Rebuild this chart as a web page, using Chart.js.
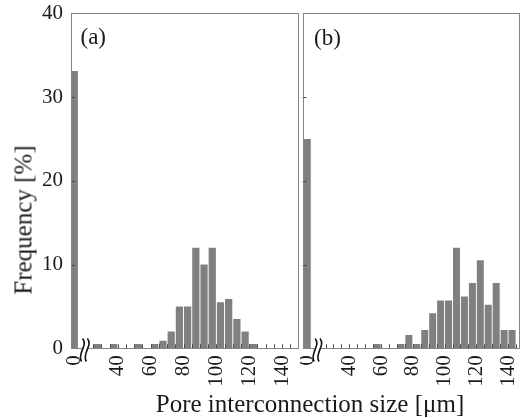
<!DOCTYPE html>
<html><head><meta charset="utf-8">
<script src="https://cdn.jsdelivr.net/npm/chart.js@4/dist/chart.umd.min.js"></script>
<style>
html,body{margin:0;padding:0;background:#fff;overflow:hidden;width:521px;height:418px;}
#wa{position:absolute;left:0;top:0;width:300px;height:418px;}
#wb{position:absolute;left:300px;top:0;width:221px;height:418px;}
.lbl{position:absolute;font-family:"Liberation Serif","Times New Roman",serif;color:#1a1a1a;white-space:nowrap;}
</style></head><body>
<div id="wa"><canvas id="ca"></canvas></div>
<div id="wb"><canvas id="cb"></canvas></div>
<div class="lbl" style="left:80.5px;top:24.5px;font-size:23px;line-height:23px;">(a)</div>
<div class="lbl" style="left:314px;top:26px;font-size:23px;line-height:23px;">(b)</div>
<div class="lbl" style="left:22.5px;top:220px;transform:translate(-50%,-50%) rotate(-90deg);font-size:25px;line-height:25px;">Frequency [%]</div>
<div class="lbl" style="left:310px;top:390.5px;transform:translateX(-50%);font-size:25px;line-height:25px;">Pore interconnection size [μm]</div>
<script>
// bins after the axis break (lower edge of each 5 µm bin)
const BIN_STARTS = [20,25,30,35,40,45,50,55,60,65,70,75,80,85,90,95,100,105,110,115,120,125,130,135,140,145];
const BIN_WIDTH = 5;
// panel (a)
const ZERO_BIN_A = 33.1;
const FREQ_A = [0,0.5,0,0.5,0,0,0.5,0,0.5,0.9,2.0,5.0,5.0,12.0,10.0,12.0,5.5,5.9,3.5,2.0,0.5,0,0,0,0,0];
// panel (b)
const ZERO_BIN_B = 25.0;
const FREQ_B = [0,0,0,0,0,0,0,0.5,0,0,0.5,1.6,0.5,2.2,4.2,5.7,5.7,12.0,6.2,7.8,10.5,5.2,7.8,2.2,2.2,0];
// axis ticks / labels
const X_TICKS = [40,60,80,100,120,140];
const Y_TICKS = [0,10,20,30,40];
const ZERO_LABEL = '0';
const ZERO_SLOT = 13.5;   // where the "0" bin sits, left of the axis break
const BREAK_AT = 20;

const FONT = '"Liberation Serif","Times New Roman",serif';

const decor = {
  id: 'decor',
  afterDatasetsDraw(chart) {
    const {ctx, chartArea: a, scales: {x, y}} = chart;
    ctx.save();
    // inward tick marks
    ctx.strokeStyle = '#4a4a4a'; ctx.lineWidth = 1;
    ctx.beginPath();
    for (const s of BIN_STARTS) {
      if (s <= BREAK_AT) continue;
      const px = Math.round(x.getPixelForValue(s)) + 0.5;
      if (px >= a.right - 1) continue;
      ctx.moveTo(px, a.bottom); ctx.lineTo(px, a.bottom - 4);
    }
    for (const v of Y_TICKS) {
      if (v <= 0 || v >= 40) continue;
      const py = Math.round(y.getPixelForValue(v)) + 0.5;
      ctx.moveTo(a.left, py); ctx.lineTo(a.left + 4, py);
    }
    ctx.stroke();
    // frame
    ctx.strokeStyle = '#858585'; ctx.lineWidth = 1;
    ctx.strokeRect(Math.round(a.left) + 0.5, Math.round(a.top) + 0.5,
                   Math.round(a.right) - Math.round(a.left) - 1, Math.round(a.bottom) - Math.round(a.top));
    // axis break
    const bx = x.getPixelForValue(BREAK_AT), by = Math.round(a.bottom) + 0.5;
    ctx.fillStyle = '#fff';
    ctx.fillRect(bx - 2.5, by - 3, 5, 6);
    ctx.strokeStyle = '#111'; ctx.lineWidth = 1.6;
    for (const dx of [-2.4, 2.4]) {
      ctx.beginPath();
      ctx.moveTo(bx + dx, by - 10);
      ctx.bezierCurveTo(bx + dx + 6, by - 3, bx + dx - 6, by + 5, bx + dx - 1, by + 13);
      ctx.stroke();
    }
    ctx.restore();
  }
};

function noPad(s) { s.paddingLeft = 0; s.paddingRight = 0; s.paddingTop = 0; s.paddingBottom = 0; }

function makeData(zero, freqs) {
  return [{x: ZERO_SLOT, y: zero}].concat(BIN_STARTS.map((s, i) => ({x: s + BIN_WIDTH / 2, y: freqs[i]})));
}

function makeChart(id, zero, freqs, xmin, xmax, showY, padRight) {
  return new Chart(document.getElementById(id), {
    type: 'bar',
    data: {datasets: [{
      data: makeData(zero, freqs),
      backgroundColor: '#808080',
      borderWidth: 0,
      categoryPercentage: 1,
      barPercentage: 0.88
    }]},
    options: {
      responsive: true, maintainAspectRatio: false, animation: false,
      devicePixelRatio: 1,
      layout: {padding: {top: 13.3, right: padRight, left: 0, bottom: 0}},
      plugins: {legend: {display: false}, tooltip: {enabled: false}},
      scales: {
        x: {
          type: 'linear', min: xmin, max: xmax, offset: false,
          grid: {display: false, drawTicks: false, offset: false},
          border: {display: false},
          afterBuildTicks: s => { s.ticks = [ZERO_SLOT].concat(X_TICKS).map(v => ({value: v})); },
          afterFit: s => { s.height = 418 - 348.3; noPad(s); },
          ticks: {
            autoSkip: false, minRotation: 90, maxRotation: 90, padding: 7,
            color: '#1a1a1a', font: {family: FONT, size: 21},
            callback: v => v === ZERO_SLOT ? ZERO_LABEL : String(v)
          }
        },
        y: {
          min: 0, max: 40,
          grid: {display: false, drawTicks: false},
          border: {display: false},
          afterBuildTicks: s => { s.ticks = Y_TICKS.map(v => ({value: v})); },
          afterFit: s => { s.width = showY ? 71 : 2.5; noPad(s); },
          ticks: {
            display: showY, padding: 8, color: '#1a1a1a',
            font: {family: FONT, size: 21}
          }
        }
      }
    },
    plugins: [decor]
  });
}

makeChart('ca', ZERO_BIN_A, FREQ_A, 11.5, 150, true, 1.5);
makeChart('cb', ZERO_BIN_B, FREQ_B, 10.5, 147.5, false, 1);
</script>
</body></html>
